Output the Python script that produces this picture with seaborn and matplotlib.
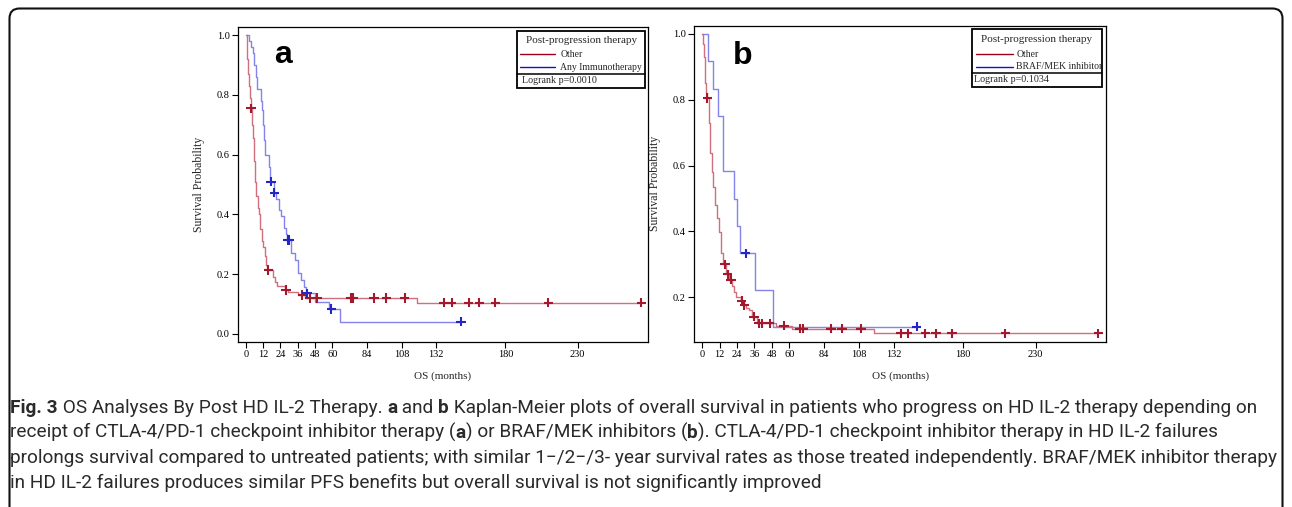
import numpy as np
import pandas as pd
import matplotlib
matplotlib.use("Agg")
import matplotlib.pyplot as plt
import seaborn as sns
from matplotlib.patches import Rectangle, FancyBboxPatch
from matplotlib.lines import Line2D
from matplotlib.transforms import IdentityTransform

# ---------------- data ----------------
x_ticks = [0, 12, 24, 36, 48, 60, 84, 108, 132, 180, 230]

# Panel a
a_groups = ["Other", "Any Immunotherapy"]
a_other_t = [0, 0.5, 1.0, 1.5, 2.0, 2.7, 3.4, 4.2, 5.0, 5.8, 6.5, 7.3, 8.2, 9.2, 10.0,
             11.0, 12.2, 13.0, 14.0, 14.8, 19.0, 20.5, 21.5, 27.5, 29.0, 36.5, 41.0, 119.0]
a_other_s = [1.0, 0.97, 0.92, 0.87, 0.83, 0.79, 0.755, 0.70, 0.655, 0.58, 0.51, 0.46, 0.42,
             0.40, 0.35, 0.31, 0.29, 0.26, 0.23, 0.214, 0.19, 0.175, 0.162, 0.147, 0.14,
             0.13, 0.12, 0.105]
a_other_cens = [3.7, 15.7, 27.8, 39.3, 44.2, 49.5, 72.7, 74.5, 88.9, 97.5, 110.2, 137.3,
                142.8, 154.6, 162.0, 172.9, 209.7, 274.3]
a_immuno_t = [0, 2.5, 3.7, 5.0, 6.0, 6.8, 7.5, 10.4, 11.1, 12.0, 12.7, 13.5, 16.0, 16.6,
              17.0, 19.3, 21.0, 22.8, 24.6, 26.3, 27.8, 28.8, 31.0, 34.3, 36.0, 38.5, 40.5,
              41.5, 48.1, 58.0, 65.0]
a_immuno_s = [1.0, 0.98, 0.96, 0.94, 0.90, 0.86, 0.82, 0.78, 0.75, 0.70, 0.65, 0.60, 0.56,
              0.53, 0.51, 0.473, 0.45, 0.415, 0.395, 0.353, 0.336, 0.314, 0.27, 0.248, 0.203,
              0.18, 0.158, 0.136, 0.108, 0.083, 0.041]
a_immuno_cens = [17.4, 19.7, 29.2, 29.9, 42.4, 59.4, 149.3]
a_pval = "Logrank p=0.0010"

# Panel b
b_groups = ["Other", "BRAF/MEK inhibitor"]
b_other_t = [0, 0.5, 1.0, 1.6, 2.2, 2.9, 3.5, 4.3, 5.3, 6.4, 7.6, 8.8, 10.0, 11.5, 13.0,
             14.5, 16.5, 18.5, 20.5, 22.0, 23.6, 26.5, 28.5, 30.5, 32.3, 34.5, 37.5, 51.0,
             62.0, 118.7]
b_other_s = [1.0, 0.97, 0.93, 0.89, 0.85, 0.82, 0.805, 0.73, 0.637, 0.58, 0.536, 0.48, 0.44,
             0.399, 0.333, 0.30, 0.27, 0.254, 0.235, 0.215, 0.20, 0.189, 0.176, 0.166, 0.161,
             0.141, 0.121, 0.114, 0.105, 0.09]
b_other_cens = [3.5, 15.7, 17.5, 19.8, 27.2, 29.1, 35.6, 39.0, 41.3, 46.4, 56.3, 67.1, 69.8,
                88.7, 96.5, 109.4, 136.9, 141.7, 153.9, 161.3, 172.3, 209.1, 273.3]
b_braf_t = [0, 4.1, 7.2, 10.6, 14.0, 14.5, 22.1, 24.2, 26.2, 36.2, 48.6]
b_braf_s = [1.0, 0.917, 0.833, 0.75, 0.667, 0.583, 0.5, 0.417, 0.333, 0.222, 0.111]
b_braf_cens = [30.0, 148.0]
b_pval = "Logrank p=0.1034"

caption_lines = [
    [("Fig. 3", True), (" OS Analyses By Post HD IL-2 Therapy. ", False), ("a", True),
     (" and ", False), ("b", True),
     (" Kaplan-Meier plots of overall survival in patients who progress on HD IL-2 therapy depending on", False)],
    [("receipt of CTLA-4/PD-1 checkpoint inhibitor therapy (", False), ("a", True),
     (") or BRAF/MEK inhibitors (", False), ("b", True),
     ("). CTLA-4/PD-1 checkpoint inhibitor therapy in HD IL-2 failures", False)],
    [("prolongs survival compared to untreated patients; with similar 1\u2212/2\u2212/3- year survival rates as those treated independently. BRAF/MEK inhibitor therapy", False)],
    [("in HD IL-2 failures produces similar PFS benefits but overall survival is not significantly improved", False)],
]

# ---------------- style ----------------
sns.set_theme(style="white")
plt.rcParams["font.family"] = ["Liberation Serif", "DejaVu Serif"]

RED_LINE, RED_MARK, RED_LEG = "#d0707e", "#a3182c", "#a0001c"
BLUE_LINE, BLUE_MARK, BLUE_LEG = "#8484ec", "#2626c4", "#1010d0"

W, H = 1292, 507
fig = plt.figure(figsize=(W / 100, H / 100), dpi=100)
axa = fig.add_axes([0.1841, 0.3260, 0.3176, 0.6213])
axb = fig.add_axes([0.5374, 0.3260, 0.3187, 0.6233])


def km_frames(groups, curves, cens):
    rows, crow = [], []
    for g, (t, s), c in zip(groups, curves, cens):
        tt = np.asarray(t)
        ss = np.asarray(s)
        for ti, si in zip(list(t) + [max(c)], list(s) + [s[-1]]):
            rows.append((g, ti, si))
        for ci in c:
            idx = np.searchsorted(tt, ci, side="right") - 1
            crow.append((g, ci, ss[idx]))
    return (pd.DataFrame(rows, columns=["group", "t", "s"]),
            pd.DataFrame(crow, columns=["group", "t", "s"]))


def panel(ax, groups, curves, cens, xlim, ylim, yticks, letter, letter_xy, pval, leg):
    df, cdf = km_frames(groups, curves, cens)
    order = [groups[1], groups[0]]
    sns.lineplot(data=df, x="t", y="s", hue="group", hue_order=order,
                 palette={groups[0]: RED_LINE, groups[1]: BLUE_LINE},
                 drawstyle="steps-post", estimator=None, sort=False, lw=1.0,
                 legend=False, ax=ax)
    sns.scatterplot(data=cdf, x="t", y="s", hue="group", hue_order=order,
                    palette={groups[0]: RED_MARK, groups[1]: BLUE_MARK},
                    marker="+", s=45, linewidth=1.5, legend=False, ax=ax, zorder=4)
    ax.set_xlim(*xlim)
    ax.set_ylim(*ylim)
    ax.set_xticks(x_ticks)
    ax.set_xticklabels([str(v) for v in x_ticks])
    ax.set_yticks(yticks)
    ax.set_yticklabels([f"{v:.1f}" for v in yticks])
    ax.set_xlabel("OS (months)", fontsize=8, labelpad=9)
    ax.set_ylabel("Survival Probability", fontsize=8.5, labelpad=8.5)
    ax.tick_params(axis="both", which="major", direction="out", length=4, width=0.8,
                   color="black", labelsize=7.5, pad=2, bottom=True, left=True,
                   top=False, right=False, labelcolor="black")
    for sp in ax.spines.values():
        sp.set_color("black")
        sp.set_linewidth(0.9)
    ax.text(letter_xy[0], letter_xy[1], letter, transform=ax.transAxes,
            family=["Liberation Sans", "DejaVu Sans"], fontweight="bold", fontsize=23,
            ha="center", va="baseline", color="black")
    # legend box (title, two entries, log-rank row)
    x0, x1, ytop, ysep, ybot, ytitle, yl1, yl2, ylog, lx0, lx1, tx, px = leg
    ax.add_patch(Rectangle((x0, ybot), x1 - x0, ytop - ybot, transform=ax.transAxes,
                           fill=True, facecolor="white", edgecolor="black", lw=1.3,
                           zorder=5))
    ax.add_line(Line2D([x0, x1], [ysep, ysep], transform=ax.transAxes, color="black",
                       lw=1.1, zorder=6))
    ax.text((x0 + x1) / 2, ytitle, "Post-progression therapy", transform=ax.transAxes,
            fontsize=8, ha="center", va="center", zorder=6)
    for yy, col, lab in [(yl1, RED_LEG, groups[0]), (yl2, BLUE_LEG, groups[1])]:
        ax.add_line(Line2D([lx0, lx1], [yy, yy], transform=ax.transAxes, color=col,
                           lw=1.0, zorder=6))
        ax.text(tx, yy, lab, transform=ax.transAxes, fontsize=7, ha="left",
                va="center", zorder=6)
    ax.text(px, ylog, pval, transform=ax.transAxes, fontsize=7.2, ha="left",
            va="center", zorder=6)


panel(axa, a_groups, [(a_other_t, a_other_s), (a_immuno_t, a_immuno_s)],
      [a_other_cens, a_immuno_cens], (-5.5, 279), (-0.026, 1.028),
      [0.0, 0.2, 0.4, 0.6, 0.8, 1.0], "a", (0.111, 0.884), a_pval,
      (0.680, 0.993, 0.986, 0.850, 0.805, 0.955, 0.913, 0.872, 0.828,
       0.688, 0.773, 0.786, 0.6925))
panel(axb, b_groups, [(b_other_t, b_other_s), (b_braf_t, b_braf_s)],
      [b_other_cens, b_braf_cens], (-5.5, 278.6), (0.065, 1.025),
      [0.2, 0.4, 0.6, 0.8, 1.0], "b", (0.1175, 0.878), b_pval,
      (0.674, 0.990, 0.990, 0.851, 0.806, 0.955, 0.910, 0.870, 0.831,
       0.684, 0.775, 0.782, 0.679))

# ---------------- caption ----------------
renderer = fig.canvas.get_renderer()
CAP_FAMILY = ["Roboto", "DejaVu Sans"]
CAP_COLOR = "#2a2a2a"


def seg_width(txt, bold, size):
    def w(s):
        t = fig.text(0, 0, s, transform=IdentityTransform(), fontsize=size,
                     fontweight="bold" if bold else "normal", family=CAP_FAMILY)
        ww = t.get_window_extent(renderer).width
        t.remove()
        return ww
    return w(txt + "x") - w("x")


base = 10.0
widest = max(sum(seg_width(t, b, base) for t, b in line) for line in caption_lines)
cap_size = base * 1268.0 / widest

baselines = [94, 69, 44, 19]
for segs, yb in zip(caption_lines, baselines):
    x = 10.0
    for txt, bold in segs:
        fig.text(x, yb, txt, transform=IdentityTransform(), fontsize=cap_size,
                 fontweight="bold" if bold else "normal", family=CAP_FAMILY,
                 ha="left", va="baseline", color=CAP_COLOR)
        x += seg_width(txt, bold, cap_size)

# frame around figure + caption
frame = FancyBboxPatch((9.5, -30), 1273, H - 8.5 + 30,
                       boxstyle="round,pad=0,rounding_size=10",
                       transform=IdentityTransform(), fill=False, lw=1.5,
                       edgecolor="#111111")
fig.add_artist(frame)

fig.savefig("out.png", dpi=100)
